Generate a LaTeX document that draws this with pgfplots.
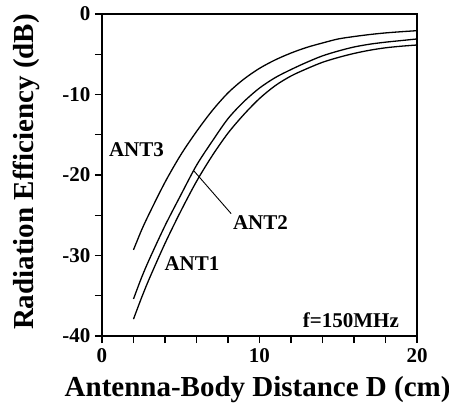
\documentclass[border=0pt]{standalone}
\usepackage{fontspec}
\setmainfont{Liberation Serif}
\usepackage{pgfplots}
\pgfplotsset{compat=1.18}

\begin{document}
\begin{tikzpicture}
\useasboundingbox (-102bp,-69bp) rectangle (347bp,336bp);
\begin{axis}[
    at={(0,0)}, anchor=south west,
    width=315bp, height=322bp, scale only axis,
    xmin=0, xmax=20, ymin=-40, ymax=0,
    xtick={0,10,20}, minor xtick={2,4,6,8,12,14,16,18},
    ytick={-40,-30,-20,-10,0}, minor ytick={-35,-25,-15,-5},
    tick align=outside, xtick pos=left, ytick pos=left,
    major tick length=7bp, minor tick length=7bp,
    every tick/.style={black, line width=1.1bp},
    axis line style={line width=1.2bp},
    /pgf/number format/assume math mode=true,
    ticklabel style={font=\bfseries\fontsize{21bp}{24bp}\selectfont},
    xticklabel style={yshift=-2bp},
    yticklabel style={xshift=-1bp},
    xlabel={Antenna-Body Distance D (cm)},
    ylabel={Radiation Efficiency (dB)},
    label style={font=\bfseries\fontsize{29bp}{32bp}\selectfont},
    xlabel style={at={(axis description cs:0.494,-0.189)}, anchor=base},
    ylabel style={at={(axis description cs:-0.219,0.509)}, anchor=base},
]
% ANT1
\addplot[black, line width=1.3bp, smooth] coordinates {
 (2,-37.9) (2.5,-35.3) (3,-32.9) (4,-28.5) (5,-24.5) (6,-20.8) (7,-17.6)
 (8,-14.8) (9,-12.5) (10,-10.5) (11,-8.9) (12,-7.7) (13,-6.8) (14,-6.0)
 (15,-5.4) (16,-4.9) (17,-4.5) (18,-4.2) (19,-4.0) (20,-3.85)
};
% ANT2
\addplot[black, line width=1.3bp, smooth] coordinates {
 (2,-35.4) (2.5,-32.8) (3,-30.5) (4,-26.3) (5,-22.5) (6,-18.8) (7,-15.8)
 (8,-13.0) (9,-10.9) (10,-9.2) (11,-7.9) (12,-6.9) (13,-6.0) (14,-5.2)
 (15,-4.6) (16,-4.1) (17,-3.75) (18,-3.5) (19,-3.3) (20,-3.1)
};
% ANT3
\addplot[black, line width=1.3bp, smooth] coordinates {
 (2,-29.3) (2.5,-26.9) (3,-24.8) (4,-20.9) (5,-17.5) (6,-14.6) (7,-12.0)
 (8,-9.8) (9,-8.1) (10,-6.75) (11,-5.7) (12,-4.85) (13,-4.15) (14,-3.6)
 (15,-3.1) (16,-2.8) (17,-2.55) (18,-2.35) (19,-2.2) (20,-2.07)
};
\draw[line width=0.9bp] (axis cs:5.84,-19.5) -- (axis cs:8.2,-24.8);
\begin{scope}[every node/.style={font=\bfseries\fontsize{21bp}{24bp}\selectfont, inner sep=0pt}]
\node at (axis cs:2.19,-16.8) {ANT3};
\node at (axis cs:10.06,-25.96) {ANT2};
\node at (axis cs:5.71,-31.06) {ANT1};
\node at (axis cs:15.8,-38.07) {f=150MHz};
\end{scope}
\end{axis}
\end{tikzpicture}
\end{document}
